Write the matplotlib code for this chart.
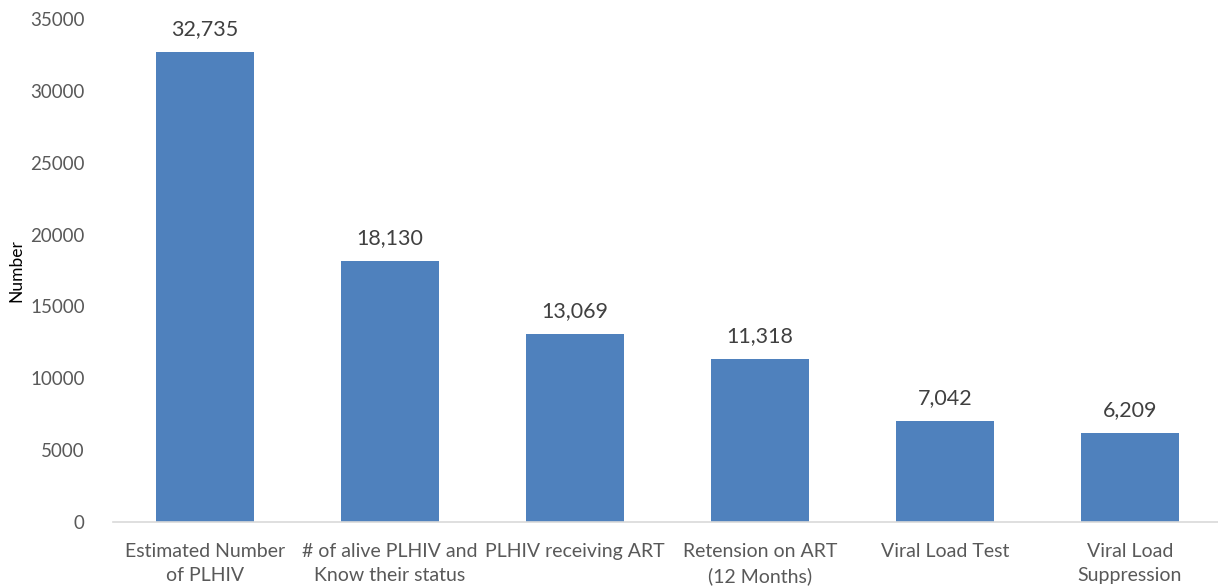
import matplotlib
matplotlib.use("Agg")
from matplotlib import pyplot as plt

plt.rcParams["font.family"] = ["Lato", "DejaVu Sans"]

categories = [
    "Estimated Number\nof PLHIV",
    "# of alive PLHIV and\nKnow their status",
    "PLHIV receiving ART",
    "Retension on ART\n(12 Months)",
    "Viral Load Test",
    "Viral Load\nSuppression",
]
values = [32735, 18130, 13069, 11318, 7042, 6209]
yticks = [0, 5000, 10000, 15000, 20000, 25000, 30000, 35000]

fig = plt.figure(figsize=(12.18, 5.88), dpi=100)
ax = fig.add_axes([112.5 / 1218, 66 / 588, 1110 / 1218, 503 / 588])

x = list(range(len(categories)))
bars = ax.bar(x, values, width=0.535, color="#4F81BD", zorder=2)

for b, v in zip(bars, values):
    ax.text(b.get_x() + b.get_width() / 2, v + 900, f"{v:,}",
            ha="center", va="bottom", fontsize=15.5, color="#404040")

ax.set_xlim(-0.5, 5.5)
ax.set_ylim(0, 35000)
ax.set_yticks(yticks)
ax.set_yticklabels([str(t) for t in yticks])
ax.set_xticks(x)
ax.set_xticklabels(categories, linespacing=1.5)
ax.tick_params(axis="y", length=0, pad=20, labelsize=13.5, labelcolor="#595959")
ax.tick_params(axis="x", length=0, pad=15, labelsize=14, labelcolor="#595959")

for s in ["top", "right", "left"]:
    ax.spines[s].set_visible(False)
ax.spines["bottom"].set_color("#D9D9D9")
ax.spines["bottom"].set_linewidth(1.2)

ax.set_ylabel("Number", fontsize=12.5, color="#000000")
ax.yaxis.set_label_coords(-0.079, 0.5)

fig.savefig("out.png", dpi=100)
